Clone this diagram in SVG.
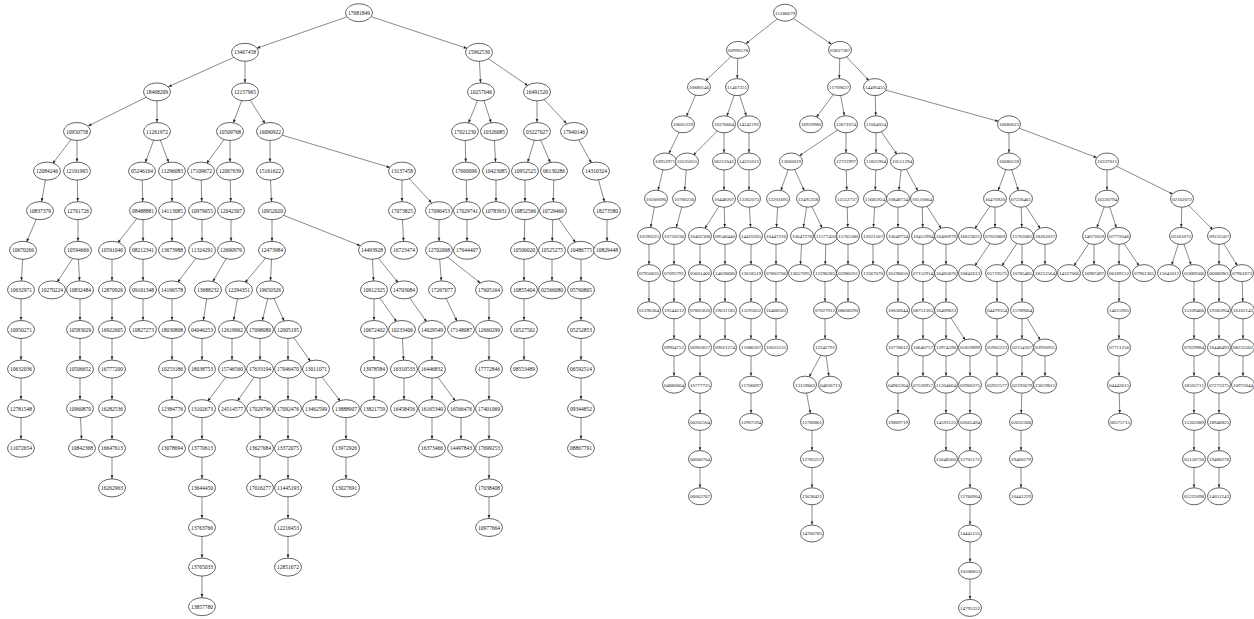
<svg xmlns="http://www.w3.org/2000/svg" width="1254" height="619" viewBox="0 0 1254 619">
<style>
.bg{fill:#fff}
ellipse{fill:#fff;stroke:#222;stroke-width:0.7}
text{font-family:"Liberation Serif",serif;font-size:5.5px;text-anchor:middle;fill:#111}
.r text{font-size:5px}
#edges path{fill:none;stroke:#3a3a3a;stroke-width:0.6}
.a{marker-end:url(#ma)}.m{marker-end:url(#mm)}.g{marker-end:url(#mg)}
.b{marker-end:url(#mb)}.bm{marker-end:url(#mbm)}.bg2{marker-end:url(#mbg)}
</style>
<defs>
<marker id="ma" markerUnits="userSpaceOnUse" viewBox="0 -5 30 10" markerWidth="30" markerHeight="10" refX="12.6" refY="0" orient="auto" overflow="visible"><path d="M0,-1.4L3.2,0L0,1.4z" fill="#222"/></marker>
<marker id="mm" markerUnits="userSpaceOnUse" viewBox="0 -5 30 10" markerWidth="30" markerHeight="10" refX="14.2" refY="0" orient="auto" overflow="visible"><path d="M0,-1.4L3.2,0L0,1.4z" fill="#222"/></marker>
<marker id="mg" markerUnits="userSpaceOnUse" viewBox="0 -5 30 10" markerWidth="30" markerHeight="10" refX="15.8" refY="0" orient="auto" overflow="visible"><path d="M0,-1.4L3.2,0L0,1.4z" fill="#222"/></marker>
<marker id="mb" markerUnits="userSpaceOnUse" viewBox="0 -5 30 10" markerWidth="30" markerHeight="10" refX="11.9" refY="0" orient="auto" overflow="visible"><path d="M0,-1.3L3,0L0,1.3z" fill="#222"/></marker>
<marker id="mbm" markerUnits="userSpaceOnUse" viewBox="0 -5 30 10" markerWidth="30" markerHeight="10" refX="13.3" refY="0" orient="auto" overflow="visible"><path d="M0,-1.3L3,0L0,1.3z" fill="#222"/></marker>
<marker id="mbg" markerUnits="userSpaceOnUse" viewBox="0 -5 30 10" markerWidth="30" markerHeight="10" refX="14.1" refY="0" orient="auto" overflow="visible"><path d="M0,-1.3L3,0L0,1.3z" fill="#222"/></marker>
</defs>
<rect class="bg" x="0" y="0" width="1254" height="619"/>
<g id="edges">
<path class="g" d="M359 12.7L245 52.3"/><path class="g" d="M359 12.7L479 52.3"/>
<path class="g" d="M245 52.3L157 91.9"/><path class="a" d="M245 52.3L245 91.9"/>
<path class="a" d="M479 52.3L481 91.9"/><path class="m" d="M479 52.3L537 91.9"/>
<path class="g" d="M157 91.9L77 131.5"/><path class="a" d="M157 91.9L157 131.5"/>
<path class="a" d="M245 91.9L230 131.5"/><path class="a" d="M245 91.9L270 131.5"/>
<path class="a" d="M481 91.9L465 131.5"/><path class="a" d="M481 91.9L494 131.5"/>
<path class="a" d="M537 91.9L537 131.5"/><path class="m" d="M537 91.9L574 131.5"/>
<path class="a" d="M77 131.5L47 171.1"/><path class="a" d="M77 131.5L77 171.1"/>
<path class="a" d="M157 131.5L142 171.1"/><path class="a" d="M157 131.5L172 171.1"/>
<path class="a" d="M230 131.5L201 171.1"/><path class="a" d="M230 131.5L230 171.1"/>
<path class="a" d="M270 131.5L270 171.1"/><path class="g" d="M270 131.5L402 171.1"/>
<path class="a" d="M465 131.5L466 171.1"/><path class="a" d="M494 131.5L496 171.1"/>
<path class="a" d="M537 131.5L525 171.1"/><path class="a" d="M537 131.5L554 171.1"/>
<path class="a" d="M574 131.5L596 171.1"/>
<path class="a" d="M47 171.1L40 210.7"/><path class="a" d="M77 171.1L78 210.7"/>
<path class="a" d="M142 171.1L143 210.7"/><path class="a" d="M172 171.1L172 210.7"/>
<path class="a" d="M201 171.1L202 210.7"/><path class="a" d="M230 171.1L231 210.7"/>
<path class="a" d="M270 171.1L272 210.7"/><path class="a" d="M402 171.1L402 210.7"/>
<path class="m" d="M402 171.1L439 210.7"/><path class="a" d="M466 171.1L467 210.7"/>
<path class="a" d="M496 171.1L496 210.7"/><path class="a" d="M525 171.1L525 210.7"/>
<path class="a" d="M554 171.1L553 210.7"/><path class="a" d="M596 171.1L607 210.7"/>
<path class="a" d="M40 210.7L23 250.3"/><path class="a" d="M78 210.7L78 250.3"/>
<path class="a" d="M143 210.7L112 250.3"/><path class="a" d="M143 210.7L143 250.3"/>
<path class="a" d="M172 210.7L172 250.3"/><path class="a" d="M202 210.7L202 250.3"/>
<path class="a" d="M231 210.7L231 250.3"/><path class="a" d="M272 210.7L272 250.3"/>
<path class="g" d="M272 210.7L372 250.3"/><path class="a" d="M402 210.7L404 250.3"/>
<path class="a" d="M439 210.7L439 250.3"/><path class="a" d="M467 210.7L467 250.3"/>
<path class="a" d="M525 210.7L524 250.3"/><path class="a" d="M553 210.7L552 250.3"/>
<path class="a" d="M553 210.7L581 250.3"/><path class="a" d="M607 210.7L607 250.3"/>
<path class="a" d="M23 250.3L21 289.9"/><path class="a" d="M78 250.3L52 289.9"/>
<path class="a" d="M78 250.3L80 289.9"/><path class="a" d="M112 250.3L112 289.9"/>
<path class="a" d="M143 250.3L143 289.9"/><path class="a" d="M202 250.3L172 289.9"/>
<path class="a" d="M231 250.3L208 289.9"/><path class="a" d="M272 250.3L239 289.9"/>
<path class="a" d="M272 250.3L270 289.9"/><path class="a" d="M372 250.3L374 289.9"/>
<path class="a" d="M372 250.3L404 289.9"/><path class="a" d="M439 250.3L442 289.9"/>
<path class="m" d="M439 250.3L489 289.9"/><path class="a" d="M524 250.3L524 289.9"/>
<path class="a" d="M552 250.3L552 289.9"/><path class="a" d="M581 250.3L581 289.9"/>
<path class="a" d="M21 289.9L21 329.5"/><path class="a" d="M80 289.9L80 329.5"/>
<path class="a" d="M112 289.9L112 329.5"/><path class="a" d="M143 289.9L143 329.5"/>
<path class="a" d="M172 289.9L172 329.5"/><path class="a" d="M208 289.9L202 329.5"/>
<path class="a" d="M239 289.9L232 329.5"/><path class="a" d="M270 289.9L260 329.5"/>
<path class="a" d="M270 289.9L288 329.5"/><path class="a" d="M374 289.9L374 329.5"/>
<path class="a" d="M374 289.9L402 329.5"/><path class="a" d="M404 289.9L432 329.5"/>
<path class="a" d="M442 289.9L461 329.5"/><path class="a" d="M489 289.9L489 329.5"/>
<path class="a" d="M524 289.9L524 329.5"/><path class="a" d="M581 289.9L581 329.5"/>
<path class="a" d="M21 329.5L21 369.1"/><path class="a" d="M80 329.5L80 369.1"/>
<path class="a" d="M112 329.5L112 369.1"/><path class="a" d="M172 329.5L172 369.1"/>
<path class="a" d="M202 329.5L202 369.1"/><path class="a" d="M232 329.5L232 369.1"/>
<path class="a" d="M260 329.5L260 369.1"/><path class="a" d="M288 329.5L288 369.1"/>
<path class="a" d="M288 329.5L316 369.1"/><path class="a" d="M374 329.5L374 369.1"/>
<path class="a" d="M402 329.5L404 369.1"/><path class="a" d="M432 329.5L432 369.1"/>
<path class="a" d="M489 329.5L489 369.1"/><path class="a" d="M524 329.5L524 369.1"/>
<path class="a" d="M581 329.5L581 369.1"/>
<path class="a" d="M21 369.1L21 408.7"/><path class="a" d="M80 369.1L80 408.7"/>
<path class="a" d="M112 369.1L112 408.7"/><path class="a" d="M172 369.1L172 408.7"/>
<path class="a" d="M232 369.1L202 408.7"/><path class="a" d="M260 369.1L232 408.7"/>
<path class="a" d="M260 369.1L260 408.7"/><path class="a" d="M288 369.1L288 408.7"/>
<path class="a" d="M316 369.1L316 408.7"/><path class="a" d="M316 369.1L346 408.7"/>
<path class="a" d="M374 369.1L374 408.7"/><path class="a" d="M404 369.1L404 408.7"/>
<path class="a" d="M432 369.1L432 408.7"/><path class="a" d="M432 369.1L461 408.7"/>
<path class="a" d="M489 369.1L489 408.7"/><path class="a" d="M581 369.1L581 408.7"/>
<path class="a" d="M21 408.7L21 448.3"/><path class="a" d="M80 408.7L82 448.3"/>
<path class="a" d="M112 408.7L112 448.3"/><path class="a" d="M172 408.7L172 448.3"/>
<path class="a" d="M202 408.7L202 448.3"/><path class="a" d="M260 408.7L260 448.3"/>
<path class="a" d="M288 408.7L288 448.3"/><path class="a" d="M346 408.7L346 448.3"/>
<path class="a" d="M432 408.7L432 448.3"/><path class="a" d="M461 408.7L461 448.3"/>
<path class="a" d="M489 408.7L489 448.3"/><path class="a" d="M581 408.7L581 448.3"/>
<path class="a" d="M112 448.3L112 487.9"/><path class="a" d="M202 448.3L202 487.9"/>
<path class="a" d="M260 448.3L260 487.9"/><path class="a" d="M288 448.3L288 487.9"/>
<path class="a" d="M346 448.3L346 487.9"/><path class="a" d="M489 448.3L489 487.9"/>
<path class="a" d="M202 487.9L202 527.5"/><path class="a" d="M288 487.9L288 527.5"/>
<path class="a" d="M489 487.9L489 527.5"/>
<path class="a" d="M202 527.5L202 567.1"/><path class="a" d="M288 527.5L288 567.1"/>
<path class="a" d="M202 567.1L202 606.7"/>
<path class="bm" d="M785 12.7L738 49.9"/><path class="bm" d="M785 12.7L840 49.9"/>
<path class="b" d="M738 49.9L699 87.1"/><path class="b" d="M738 49.9L737 87.1"/>
<path class="b" d="M840 49.9L839 87.1"/><path class="b" d="M840 49.9L875 87.1"/>
<path class="b" d="M699 87.1L683 124.3"/><path class="b" d="M737 87.1L724 124.3"/>
<path class="b" d="M737 87.1L749 124.3"/><path class="b" d="M839 87.1L811 124.3"/>
<path class="b" d="M839 87.1L846 124.3"/><path class="b" d="M875 87.1L876 124.3"/>
<path class="bg2" d="M875 87.1L1009 124.3"/>
<path class="b" d="M683 124.3L665 161.5"/><path class="b" d="M724 124.3L687 161.5"/>
<path class="b" d="M724 124.3L724 161.5"/><path class="b" d="M749 124.3L749 161.5"/>
<path class="bm" d="M846 124.3L791 161.5"/><path class="b" d="M846 124.3L846 161.5"/>
<path class="b" d="M876 124.3L876 161.5"/><path class="b" d="M876 124.3L902 161.5"/>
<path class="b" d="M1009 124.3L1009 161.5"/><path class="bg2" d="M1009 124.3L1107 161.5"/>
<path class="b" d="M665 161.5L656 198.7"/><path class="b" d="M687 161.5L684 198.7"/>
<path class="b" d="M724 161.5L724 198.7"/><path class="b" d="M749 161.5L749 198.7"/>
<path class="b" d="M791 161.5L778 198.7"/><path class="b" d="M791 161.5L808 198.7"/>
<path class="b" d="M846 161.5L847 198.7"/><path class="b" d="M876 161.5L875 198.7"/>
<path class="b" d="M902 161.5L898 198.7"/><path class="b" d="M902 161.5L922 198.7"/>
<path class="b" d="M1009 161.5L995 198.7"/><path class="b" d="M1009 161.5L1021 198.7"/>
<path class="b" d="M1107 161.5L1107 198.7"/><path class="bm" d="M1107 161.5L1182 198.7"/>
<path class="b" d="M656 198.7L649 235.9"/><path class="b" d="M684 198.7L674 235.9"/>
<path class="b" d="M724 198.7L700 235.9"/><path class="b" d="M724 198.7L725 235.9"/>
<path class="b" d="M749 198.7L751 235.9"/><path class="b" d="M778 198.7L776 235.9"/>
<path class="b" d="M808 198.7L802 235.9"/><path class="b" d="M808 198.7L826 235.9"/>
<path class="b" d="M847 198.7L848 235.9"/><path class="b" d="M875 198.7L873 235.9"/>
<path class="b" d="M898 198.7L898 235.9"/><path class="b" d="M922 198.7L923 235.9"/>
<path class="b" d="M922 198.7L946 235.9"/><path class="b" d="M995 198.7L970 235.9"/>
<path class="b" d="M995 198.7L995 235.9"/><path class="b" d="M1021 198.7L1022 235.9"/>
<path class="b" d="M1021 198.7L1045 235.9"/><path class="b" d="M1107 198.7L1094 235.9"/>
<path class="b" d="M1107 198.7L1119 235.9"/><path class="b" d="M1182 198.7L1181 235.9"/>
<path class="b" d="M1182 198.7L1219 235.9"/>
<path class="b" d="M649 235.9L649 273.1"/><path class="b" d="M674 235.9L674 273.1"/>
<path class="b" d="M700 235.9L700 273.1"/><path class="b" d="M725 235.9L725 273.1"/>
<path class="b" d="M751 235.9L751 273.1"/><path class="b" d="M776 235.9L776 273.1"/>
<path class="b" d="M802 235.9L800 273.1"/><path class="b" d="M826 235.9L825 273.1"/>
<path class="b" d="M848 235.9L848 273.1"/><path class="b" d="M873 235.9L873 273.1"/>
<path class="b" d="M898 235.9L898 273.1"/><path class="b" d="M923 235.9L923 273.1"/>
<path class="b" d="M946 235.9L946 273.1"/><path class="b" d="M995 235.9L970 273.1"/>
<path class="b" d="M1022 235.9L997 273.1"/><path class="b" d="M1022 235.9L1022 273.1"/>
<path class="b" d="M1045 235.9L1045 273.1"/><path class="b" d="M1094 235.9L1069 273.1"/>
<path class="b" d="M1094 235.9L1094 273.1"/><path class="b" d="M1119 235.9L1119 273.1"/>
<path class="b" d="M1119 235.9L1144 273.1"/><path class="b" d="M1181 235.9L1169 273.1"/>
<path class="b" d="M1181 235.9L1194 273.1"/><path class="b" d="M1219 235.9L1219 273.1"/>
<path class="b" d="M1219 235.9L1242 273.1"/>
<path class="b" d="M649 273.1L649 310.3"/><path class="b" d="M674 273.1L674 310.3"/>
<path class="b" d="M700 273.1L700 310.3"/><path class="b" d="M725 273.1L725 310.3"/>
<path class="b" d="M751 273.1L751 310.3"/><path class="b" d="M776 273.1L776 310.3"/>
<path class="b" d="M825 273.1L825 310.3"/><path class="b" d="M848 273.1L848 310.3"/>
<path class="b" d="M898 273.1L898 310.3"/><path class="b" d="M923 273.1L923 310.3"/>
<path class="b" d="M946 273.1L946 310.3"/><path class="b" d="M997 273.1L997 310.3"/>
<path class="b" d="M1022 273.1L1022 310.3"/><path class="b" d="M1119 273.1L1119 310.3"/>
<path class="b" d="M1194 273.1L1194 310.3"/><path class="b" d="M1219 273.1L1219 310.3"/>
<path class="b" d="M1242 273.1L1243 310.3"/>
<path class="b" d="M674 310.3L674 347.5"/><path class="b" d="M700 310.3L700 347.5"/>
<path class="b" d="M725 310.3L725 347.5"/><path class="b" d="M751 310.3L751 347.5"/>
<path class="b" d="M776 310.3L776 347.5"/><path class="b" d="M825 310.3L825 347.5"/>
<path class="b" d="M898 310.3L898 347.5"/><path class="b" d="M923 310.3L923 347.5"/>
<path class="b" d="M946 310.3L946 347.5"/><path class="b" d="M946 310.3L970 347.5"/>
<path class="b" d="M997 310.3L997 347.5"/><path class="b" d="M1022 310.3L1022 347.5"/>
<path class="b" d="M1022 310.3L1045 347.5"/><path class="b" d="M1119 310.3L1119 347.5"/>
<path class="b" d="M1194 310.3L1194 347.5"/><path class="b" d="M1219 310.3L1219 347.5"/>
<path class="b" d="M1243 310.3L1243 347.5"/>
<path class="b" d="M674 347.5L674 384.7"/><path class="b" d="M700 347.5L700 384.7"/>
<path class="b" d="M751 347.5L751 384.7"/><path class="b" d="M825 347.5L805 384.7"/>
<path class="b" d="M825 347.5L830 384.7"/><path class="b" d="M898 347.5L898 384.7"/>
<path class="b" d="M923 347.5L923 384.7"/><path class="b" d="M946 347.5L946 384.7"/>
<path class="b" d="M970 347.5L970 384.7"/><path class="b" d="M997 347.5L997 384.7"/>
<path class="b" d="M1022 347.5L1022 384.7"/><path class="b" d="M1045 347.5L1045 384.7"/>
<path class="b" d="M1119 347.5L1119 384.7"/><path class="b" d="M1194 347.5L1194 384.7"/>
<path class="b" d="M1219 347.5L1219 384.7"/><path class="b" d="M1243 347.5L1243 384.7"/>
<path class="b" d="M700 384.7L700 421.9"/><path class="b" d="M751 384.7L751 421.9"/>
<path class="b" d="M805 384.7L812 421.9"/><path class="b" d="M898 384.7L898 421.9"/>
<path class="b" d="M946 384.7L946 421.9"/><path class="b" d="M970 384.7L970 421.9"/>
<path class="b" d="M1022 384.7L1021 421.9"/><path class="b" d="M1119 384.7L1120 421.9"/>
<path class="b" d="M1194 384.7L1194 421.9"/><path class="b" d="M1219 384.7L1219 421.9"/>
<path class="b" d="M700 421.9L700 459.1"/><path class="b" d="M812 421.9L812 459.1"/>
<path class="b" d="M946 421.9L946 459.1"/><path class="b" d="M970 421.9L970 459.1"/>
<path class="b" d="M1021 421.9L1021 459.1"/><path class="b" d="M1194 421.9L1194 459.1"/>
<path class="b" d="M1219 421.9L1219 459.1"/>
<path class="b" d="M700 459.1L700 496.3"/><path class="b" d="M812 459.1L812 496.3"/>
<path class="b" d="M970 459.1L970 496.3"/><path class="b" d="M1021 459.1L1021 496.3"/>
<path class="b" d="M1194 459.1L1194 496.3"/><path class="b" d="M1219 459.1L1219 496.3"/>
<path class="b" d="M812 496.3L812 533.5"/><path class="b" d="M970 496.3L970 533.5"/>
<path class="b" d="M970 533.5L970 570.7"/><path class="b" d="M970 570.7L970 607.9"/>
</g>
<g id="nodes-left">
<g id="L0"><ellipse cx="359" cy="12.7" rx="13.5" ry="9"/><text x="359" y="14.7">17681849</text></g>
<g id="L1"><ellipse cx="245" cy="52.3" rx="13.5" ry="9"/><text x="245" y="54.3">13467458</text></g>
<g id="L2"><ellipse cx="479" cy="52.3" rx="13.5" ry="9"/><text x="479" y="54.3">15962536</text></g>
<g id="L3"><ellipse cx="157" cy="91.9" rx="13.5" ry="9"/><text x="157" y="93.9">18468209</text></g>
<g id="L4"><ellipse cx="245" cy="91.9" rx="13.5" ry="9"/><text x="245" y="93.9">12157965</text></g>
<g id="L5"><ellipse cx="481" cy="91.9" rx="13.5" ry="9"/><text x="481" y="93.9">10257046</text></g>
<g id="L6"><ellipse cx="537" cy="91.9" rx="13.5" ry="9"/><text x="537" y="93.9">16491520</text></g>
<g id="L7"><ellipse cx="77" cy="131.5" rx="13.5" ry="9"/><text x="77" y="133.5">10950758</text></g>
<g id="L8"><ellipse cx="157" cy="131.5" rx="13.5" ry="9"/><text x="157" y="133.5">11261972</text></g>
<g id="L9"><ellipse cx="230" cy="131.5" rx="13.5" ry="9"/><text x="230" y="133.5">10509768</text></g>
<g id="L10"><ellipse cx="270" cy="131.5" rx="13.5" ry="9"/><text x="270" y="133.5">16090922</text></g>
<g id="L11"><ellipse cx="465" cy="131.5" rx="13.5" ry="9"/><text x="465" y="133.5">17021230</text></g>
<g id="L12"><ellipse cx="494" cy="131.5" rx="13.5" ry="9"/><text x="494" y="133.5">10326085</text></g>
<g id="L13"><ellipse cx="537" cy="131.5" rx="13.5" ry="9"/><text x="537" y="133.5">03227027</text></g>
<g id="L14"><ellipse cx="574" cy="131.5" rx="13.5" ry="9"/><text x="574" y="133.5">17940146</text></g>
<g id="L15"><ellipse cx="47" cy="171.1" rx="13.5" ry="9"/><text x="47" y="173.1">12084246</text></g>
<g id="L16"><ellipse cx="77" cy="171.1" rx="13.5" ry="9"/><text x="77" y="173.1">12191965</text></g>
<g id="L17"><ellipse cx="142" cy="171.1" rx="13.5" ry="9"/><text x="142" y="173.1">05246164</text></g>
<g id="L18"><ellipse cx="172" cy="171.1" rx="13.5" ry="9"/><text x="172" y="173.1">11296083</text></g>
<g id="L19"><ellipse cx="201" cy="171.1" rx="13.5" ry="9"/><text x="201" y="173.1">17109672</text></g>
<g id="L20"><ellipse cx="230" cy="171.1" rx="13.5" ry="9"/><text x="230" y="173.1">12067639</text></g>
<g id="L21"><ellipse cx="270" cy="171.1" rx="13.5" ry="9"/><text x="270" y="173.1">15161622</text></g>
<g id="L22"><ellipse cx="402" cy="171.1" rx="13.5" ry="9"/><text x="402" y="173.1">13137458</text></g>
<g id="L23"><ellipse cx="466" cy="171.1" rx="13.5" ry="9"/><text x="466" y="173.1">17660096</text></g>
<g id="L24"><ellipse cx="496" cy="171.1" rx="13.5" ry="9"/><text x="496" y="173.1">10423085</text></g>
<g id="L25"><ellipse cx="525" cy="171.1" rx="13.5" ry="9"/><text x="525" y="173.1">10952525</text></g>
<g id="L26"><ellipse cx="554" cy="171.1" rx="13.5" ry="9"/><text x="554" y="173.1">06130286</text></g>
<g id="L27"><ellipse cx="596" cy="171.1" rx="13.5" ry="9"/><text x="596" y="173.1">14310324</text></g>
<g id="L28"><ellipse cx="40" cy="210.7" rx="13.5" ry="9"/><text x="40" y="212.7">10837379</text></g>
<g id="L29"><ellipse cx="78" cy="210.7" rx="13.5" ry="9"/><text x="78" y="212.7">12761726</text></g>
<g id="L30"><ellipse cx="143" cy="210.7" rx="13.5" ry="9"/><text x="143" y="212.7">08488881</text></g>
<g id="L31"><ellipse cx="172" cy="210.7" rx="13.5" ry="9"/><text x="172" y="212.7">14113085</text></g>
<g id="L32"><ellipse cx="202" cy="210.7" rx="13.5" ry="9"/><text x="202" y="212.7">10979055</text></g>
<g id="L33"><ellipse cx="231" cy="210.7" rx="13.5" ry="9"/><text x="231" y="212.7">12042307</text></g>
<g id="L34"><ellipse cx="272" cy="210.7" rx="13.5" ry="9"/><text x="272" y="212.7">10952020</text></g>
<g id="L35"><ellipse cx="402" cy="210.7" rx="13.5" ry="9"/><text x="402" y="212.7">17073825</text></g>
<g id="L36"><ellipse cx="439" cy="210.7" rx="13.5" ry="9"/><text x="439" y="212.7">17096453</text></g>
<g id="L37"><ellipse cx="467" cy="210.7" rx="13.5" ry="9"/><text x="467" y="212.7">17029741</text></g>
<g id="L38"><ellipse cx="496" cy="210.7" rx="13.5" ry="9"/><text x="496" y="212.7">10783931</text></g>
<g id="L39"><ellipse cx="525" cy="210.7" rx="13.5" ry="9"/><text x="525" y="212.7">10852566</text></g>
<g id="L40"><ellipse cx="553" cy="210.7" rx="13.5" ry="9"/><text x="553" y="212.7">10729466</text></g>
<g id="L41"><ellipse cx="607" cy="210.7" rx="13.5" ry="9"/><text x="607" y="212.7">18273580</text></g>
<g id="L42"><ellipse cx="23" cy="250.3" rx="13.5" ry="9"/><text x="23" y="252.3">10670266</text></g>
<g id="L43"><ellipse cx="78" cy="250.3" rx="13.5" ry="9"/><text x="78" y="252.3">10594666</text></g>
<g id="L44"><ellipse cx="112" cy="250.3" rx="13.5" ry="9"/><text x="112" y="252.3">10591046</text></g>
<g id="L45"><ellipse cx="143" cy="250.3" rx="13.5" ry="9"/><text x="143" y="252.3">08212341</text></g>
<g id="L46"><ellipse cx="172" cy="250.3" rx="13.5" ry="9"/><text x="172" y="252.3">13673988</text></g>
<g id="L47"><ellipse cx="202" cy="250.3" rx="13.5" ry="9"/><text x="202" y="252.3">11324291</text></g>
<g id="L48"><ellipse cx="231" cy="250.3" rx="13.5" ry="9"/><text x="231" y="252.3">12690976</text></g>
<g id="L49"><ellipse cx="272" cy="250.3" rx="13.5" ry="9"/><text x="272" y="252.3">12473984</text></g>
<g id="L50"><ellipse cx="372" cy="250.3" rx="13.5" ry="9"/><text x="372" y="252.3">14493928</text></g>
<g id="L51"><ellipse cx="404" cy="250.3" rx="13.5" ry="9"/><text x="404" y="252.3">16723474</text></g>
<g id="L52"><ellipse cx="439" cy="250.3" rx="13.5" ry="9"/><text x="439" y="252.3">12702068</text></g>
<g id="L53"><ellipse cx="467" cy="250.3" rx="13.5" ry="9"/><text x="467" y="252.3">17644407</text></g>
<g id="L54"><ellipse cx="524" cy="250.3" rx="13.5" ry="9"/><text x="524" y="252.3">10506020</text></g>
<g id="L55"><ellipse cx="552" cy="250.3" rx="13.5" ry="9"/><text x="552" y="252.3">10525275</text></g>
<g id="L56"><ellipse cx="581" cy="250.3" rx="13.5" ry="9"/><text x="581" y="252.3">10486775</text></g>
<g id="L57"><ellipse cx="607" cy="250.3" rx="13.5" ry="9"/><text x="607" y="252.3">10829448</text></g>
<g id="L58"><ellipse cx="21" cy="289.9" rx="13.5" ry="9"/><text x="21" y="291.9">10632971</text></g>
<g id="L59"><ellipse cx="52" cy="289.9" rx="13.5" ry="9"/><text x="52" y="291.9">10270224</text></g>
<g id="L60"><ellipse cx="80" cy="289.9" rx="13.5" ry="9"/><text x="80" y="291.9">10832484</text></g>
<g id="L61"><ellipse cx="112" cy="289.9" rx="13.5" ry="9"/><text x="112" y="291.9">12870926</text></g>
<g id="L62"><ellipse cx="143" cy="289.9" rx="13.5" ry="9"/><text x="143" y="291.9">09101348</text></g>
<g id="L63"><ellipse cx="172" cy="289.9" rx="13.5" ry="9"/><text x="172" y="291.9">14196578</text></g>
<g id="L64"><ellipse cx="208" cy="289.9" rx="13.5" ry="9"/><text x="208" y="291.9">13688232</text></g>
<g id="L65"><ellipse cx="239" cy="289.9" rx="13.5" ry="9"/><text x="239" y="291.9">12294351</text></g>
<g id="L66"><ellipse cx="270" cy="289.9" rx="13.5" ry="9"/><text x="270" y="291.9">19650326</text></g>
<g id="L67"><ellipse cx="374" cy="289.9" rx="13.5" ry="9"/><text x="374" y="291.9">10912325</text></g>
<g id="L68"><ellipse cx="404" cy="289.9" rx="13.5" ry="9"/><text x="404" y="291.9">14703084</text></g>
<g id="L69"><ellipse cx="442" cy="289.9" rx="13.5" ry="9"/><text x="442" y="291.9">17267077</text></g>
<g id="L70"><ellipse cx="489" cy="289.9" rx="13.5" ry="9"/><text x="489" y="291.9">17605164</text></g>
<g id="L71"><ellipse cx="524" cy="289.9" rx="13.5" ry="9"/><text x="524" y="291.9">10855404</text></g>
<g id="L72"><ellipse cx="552" cy="289.9" rx="13.5" ry="9"/><text x="552" y="291.9">02566080</text></g>
<g id="L73"><ellipse cx="581" cy="289.9" rx="13.5" ry="9"/><text x="581" y="291.9">05760805</text></g>
<g id="L74"><ellipse cx="21" cy="329.5" rx="13.5" ry="9"/><text x="21" y="331.5">10950271</text></g>
<g id="L75"><ellipse cx="80" cy="329.5" rx="13.5" ry="9"/><text x="80" y="331.5">10583029</text></g>
<g id="L76"><ellipse cx="112" cy="329.5" rx="13.5" ry="9"/><text x="112" y="331.5">16922605</text></g>
<g id="L77"><ellipse cx="143" cy="329.5" rx="13.5" ry="9"/><text x="143" y="331.5">10827273</text></g>
<g id="L78"><ellipse cx="172" cy="329.5" rx="13.5" ry="9"/><text x="172" y="331.5">18030808</text></g>
<g id="L79"><ellipse cx="202" cy="329.5" rx="13.5" ry="9"/><text x="202" y="331.5">04046253</text></g>
<g id="L80"><ellipse cx="232" cy="329.5" rx="13.5" ry="9"/><text x="232" y="331.5">12619962</text></g>
<g id="L81"><ellipse cx="260" cy="329.5" rx="13.5" ry="9"/><text x="260" y="331.5">17098080</text></g>
<g id="L82"><ellipse cx="288" cy="329.5" rx="13.5" ry="9"/><text x="288" y="331.5">12005195</text></g>
<g id="L83"><ellipse cx="374" cy="329.5" rx="13.5" ry="9"/><text x="374" y="331.5">10672402</text></g>
<g id="L84"><ellipse cx="402" cy="329.5" rx="13.5" ry="9"/><text x="402" y="331.5">10233406</text></g>
<g id="L85"><ellipse cx="432" cy="329.5" rx="13.5" ry="9"/><text x="432" y="331.5">14029549</text></g>
<g id="L86"><ellipse cx="461" cy="329.5" rx="13.5" ry="9"/><text x="461" y="331.5">17148087</text></g>
<g id="L87"><ellipse cx="489" cy="329.5" rx="13.5" ry="9"/><text x="489" y="331.5">12660299</text></g>
<g id="L88"><ellipse cx="524" cy="329.5" rx="13.5" ry="9"/><text x="524" y="331.5">10527502</text></g>
<g id="L89"><ellipse cx="581" cy="329.5" rx="13.5" ry="9"/><text x="581" y="331.5">05252853</text></g>
<g id="L90"><ellipse cx="21" cy="369.1" rx="13.5" ry="9"/><text x="21" y="371.1">10632036</text></g>
<g id="L91"><ellipse cx="80" cy="369.1" rx="13.5" ry="9"/><text x="80" y="371.1">10506652</text></g>
<g id="L92"><ellipse cx="112" cy="369.1" rx="13.5" ry="9"/><text x="112" y="371.1">16777200</text></g>
<g id="L93"><ellipse cx="172" cy="369.1" rx="13.5" ry="9"/><text x="172" y="371.1">10253186</text></g>
<g id="L94"><ellipse cx="202" cy="369.1" rx="13.5" ry="9"/><text x="202" y="371.1">18038753</text></g>
<g id="L95"><ellipse cx="232" cy="369.1" rx="13.5" ry="9"/><text x="232" y="371.1">15746560</text></g>
<g id="L96"><ellipse cx="260" cy="369.1" rx="13.5" ry="9"/><text x="260" y="371.1">17633194</text></g>
<g id="L97"><ellipse cx="288" cy="369.1" rx="13.5" ry="9"/><text x="288" y="371.1">17046470</text></g>
<g id="L98"><ellipse cx="316" cy="369.1" rx="13.5" ry="9"/><text x="316" y="371.1">13011071</text></g>
<g id="L99"><ellipse cx="374" cy="369.1" rx="13.5" ry="9"/><text x="374" y="371.1">13978584</text></g>
<g id="L100"><ellipse cx="404" cy="369.1" rx="13.5" ry="9"/><text x="404" y="371.1">16310533</text></g>
<g id="L101"><ellipse cx="432" cy="369.1" rx="13.5" ry="9"/><text x="432" y="371.1">16446832</text></g>
<g id="L102"><ellipse cx="489" cy="369.1" rx="13.5" ry="9"/><text x="489" y="371.1">17772846</text></g>
<g id="L103"><ellipse cx="524" cy="369.1" rx="13.5" ry="9"/><text x="524" y="371.1">08553489</text></g>
<g id="L104"><ellipse cx="581" cy="369.1" rx="13.5" ry="9"/><text x="581" y="371.1">06592514</text></g>
<g id="L105"><ellipse cx="21" cy="408.7" rx="13.5" ry="9"/><text x="21" y="410.7">12781548</text></g>
<g id="L106"><ellipse cx="80" cy="408.7" rx="13.5" ry="9"/><text x="80" y="410.7">10960870</text></g>
<g id="L107"><ellipse cx="112" cy="408.7" rx="13.5" ry="9"/><text x="112" y="410.7">16282536</text></g>
<g id="L108"><ellipse cx="172" cy="408.7" rx="13.5" ry="9"/><text x="172" y="410.7">12384776</text></g>
<g id="L109"><ellipse cx="202" cy="408.7" rx="13.5" ry="9"/><text x="202" y="410.7">13102673</text></g>
<g id="L110"><ellipse cx="232" cy="408.7" rx="13.5" ry="9"/><text x="232" y="410.7">24514577</text></g>
<g id="L111"><ellipse cx="260" cy="408.7" rx="13.5" ry="9"/><text x="260" y="410.7">17029796</text></g>
<g id="L112"><ellipse cx="288" cy="408.7" rx="13.5" ry="9"/><text x="288" y="410.7">17092476</text></g>
<g id="L113"><ellipse cx="316" cy="408.7" rx="13.5" ry="9"/><text x="316" y="410.7">13462599</text></g>
<g id="L114"><ellipse cx="346" cy="408.7" rx="13.5" ry="9"/><text x="346" y="410.7">13888907</text></g>
<g id="L115"><ellipse cx="374" cy="408.7" rx="13.5" ry="9"/><text x="374" y="410.7">13821759</text></g>
<g id="L116"><ellipse cx="404" cy="408.7" rx="13.5" ry="9"/><text x="404" y="410.7">16458456</text></g>
<g id="L117"><ellipse cx="432" cy="408.7" rx="13.5" ry="9"/><text x="432" y="410.7">16165340</text></g>
<g id="L118"><ellipse cx="461" cy="408.7" rx="13.5" ry="9"/><text x="461" y="410.7">16566476</text></g>
<g id="L119"><ellipse cx="489" cy="408.7" rx="13.5" ry="9"/><text x="489" y="410.7">17401069</text></g>
<g id="L120"><ellipse cx="581" cy="408.7" rx="13.5" ry="9"/><text x="581" y="410.7">09344852</text></g>
<g id="L121"><ellipse cx="21" cy="448.3" rx="13.5" ry="9"/><text x="21" y="450.3">11072654</text></g>
<g id="L122"><ellipse cx="82" cy="448.3" rx="13.5" ry="9"/><text x="82" y="450.3">10842368</text></g>
<g id="L123"><ellipse cx="112" cy="448.3" rx="13.5" ry="9"/><text x="112" y="450.3">16647613</text></g>
<g id="L124"><ellipse cx="172" cy="448.3" rx="13.5" ry="9"/><text x="172" y="450.3">13078694</text></g>
<g id="L125"><ellipse cx="202" cy="448.3" rx="13.5" ry="9"/><text x="202" y="450.3">13770613</text></g>
<g id="L126"><ellipse cx="260" cy="448.3" rx="13.5" ry="9"/><text x="260" y="450.3">13627684</text></g>
<g id="L127"><ellipse cx="288" cy="448.3" rx="13.5" ry="9"/><text x="288" y="450.3">13372075</text></g>
<g id="L128"><ellipse cx="346" cy="448.3" rx="13.5" ry="9"/><text x="346" y="450.3">13972926</text></g>
<g id="L129"><ellipse cx="432" cy="448.3" rx="13.5" ry="9"/><text x="432" y="450.3">16373466</text></g>
<g id="L130"><ellipse cx="461" cy="448.3" rx="13.5" ry="9"/><text x="461" y="450.3">14497843</text></g>
<g id="L131"><ellipse cx="489" cy="448.3" rx="13.5" ry="9"/><text x="489" y="450.3">17699253</text></g>
<g id="L132"><ellipse cx="581" cy="448.3" rx="13.5" ry="9"/><text x="581" y="450.3">08867791</text></g>
<g id="L133"><ellipse cx="112" cy="487.9" rx="13.5" ry="9"/><text x="112" y="489.9">16262963</text></g>
<g id="L134"><ellipse cx="202" cy="487.9" rx="13.5" ry="9"/><text x="202" y="489.9">13644450</text></g>
<g id="L135"><ellipse cx="260" cy="487.9" rx="13.5" ry="9"/><text x="260" y="489.9">17016277</text></g>
<g id="L136"><ellipse cx="288" cy="487.9" rx="13.5" ry="9"/><text x="288" y="489.9">11445193</text></g>
<g id="L137"><ellipse cx="346" cy="487.9" rx="13.5" ry="9"/><text x="346" y="489.9">13027691</text></g>
<g id="L138"><ellipse cx="489" cy="487.9" rx="13.5" ry="9"/><text x="489" y="489.9">17038408</text></g>
<g id="L139"><ellipse cx="202" cy="527.5" rx="13.5" ry="9"/><text x="202" y="529.5">13763766</text></g>
<g id="L140"><ellipse cx="288" cy="527.5" rx="13.5" ry="9"/><text x="288" y="529.5">12216453</text></g>
<g id="L141"><ellipse cx="489" cy="527.5" rx="13.5" ry="9"/><text x="489" y="529.5">10977664</text></g>
<g id="L142"><ellipse cx="202" cy="567.1" rx="13.5" ry="9"/><text x="202" y="569.1">13765033</text></g>
<g id="L143"><ellipse cx="288" cy="567.1" rx="13.5" ry="9"/><text x="288" y="569.1">12851672</text></g>
<g id="L144"><ellipse cx="202" cy="606.7" rx="13.5" ry="9"/><text x="202" y="608.7">13857780</text></g>
</g>
<g id="nodes-right" class="r">
<g id="R0"><ellipse cx="785" cy="12.7" rx="11.5" ry="8.5"/><text x="785" y="14.5">15186679</text></g>
<g id="R1"><ellipse cx="738" cy="49.9" rx="11.5" ry="8.5"/><text x="738" y="51.7">00990578</text></g>
<g id="R2"><ellipse cx="840" cy="49.9" rx="11.5" ry="8.5"/><text x="840" y="51.7">03837387</text></g>
<g id="R3"><ellipse cx="699" cy="87.1" rx="11.5" ry="8.5"/><text x="699" y="88.9">10880146</text></g>
<g id="R4"><ellipse cx="737" cy="87.1" rx="11.5" ry="8.5"/><text x="737" y="88.9">11467351</text></g>
<g id="R5"><ellipse cx="839" cy="87.1" rx="11.5" ry="8.5"/><text x="839" y="88.9">11709637</text></g>
<g id="R6"><ellipse cx="875" cy="87.1" rx="11.5" ry="8.5"/><text x="875" y="88.9">14490435</text></g>
<g id="R7"><ellipse cx="683" cy="124.3" rx="11.5" ry="8.5"/><text x="683" y="126.1">10605229</text></g>
<g id="R8"><ellipse cx="724" cy="124.3" rx="11.5" ry="8.5"/><text x="724" y="126.1">10376664</text></g>
<g id="R9"><ellipse cx="749" cy="124.3" rx="11.5" ry="8.5"/><text x="749" y="126.1">14242192</text></g>
<g id="R10"><ellipse cx="811" cy="124.3" rx="11.5" ry="8.5"/><text x="811" y="126.1">16959980</text></g>
<g id="R11"><ellipse cx="846" cy="124.3" rx="11.5" ry="8.5"/><text x="846" y="126.1">12671074</text></g>
<g id="R12"><ellipse cx="876" cy="124.3" rx="11.5" ry="8.5"/><text x="876" y="126.1">11064024</text></g>
<g id="R13"><ellipse cx="1009" cy="124.3" rx="11.5" ry="8.5"/><text x="1009" y="126.1">16680623</text></g>
<g id="R14"><ellipse cx="665" cy="161.5" rx="11.5" ry="8.5"/><text x="665" y="163.3">10952971</text></g>
<g id="R15"><ellipse cx="687" cy="161.5" rx="11.5" ry="8.5"/><text x="687" y="163.3">10235055</text></g>
<g id="R16"><ellipse cx="724" cy="161.5" rx="11.5" ry="8.5"/><text x="724" y="163.3">06212041</text></g>
<g id="R17"><ellipse cx="749" cy="161.5" rx="11.5" ry="8.5"/><text x="749" y="163.3">14225012</text></g>
<g id="R18"><ellipse cx="791" cy="161.5" rx="11.5" ry="8.5"/><text x="791" y="163.3">13660019</text></g>
<g id="R19"><ellipse cx="846" cy="161.5" rx="11.5" ry="8.5"/><text x="846" y="163.3">12722997</text></g>
<g id="R20"><ellipse cx="876" cy="161.5" rx="11.5" ry="8.5"/><text x="876" y="163.3">11825904</text></g>
<g id="R21"><ellipse cx="902" cy="161.5" rx="11.5" ry="8.5"/><text x="902" y="163.3">10511294</text></g>
<g id="R22"><ellipse cx="1009" cy="161.5" rx="11.5" ry="8.5"/><text x="1009" y="163.3">16680128</text></g>
<g id="R23"><ellipse cx="1107" cy="161.5" rx="11.5" ry="8.5"/><text x="1107" y="163.3">10337011</text></g>
<g id="R24"><ellipse cx="656" cy="198.7" rx="11.5" ry="8.5"/><text x="656" y="200.5">10500096</text></g>
<g id="R25"><ellipse cx="684" cy="198.7" rx="11.5" ry="8.5"/><text x="684" y="200.5">10780236</text></g>
<g id="R26"><ellipse cx="724" cy="198.7" rx="11.5" ry="8.5"/><text x="724" y="200.5">10448207</text></g>
<g id="R27"><ellipse cx="749" cy="198.7" rx="11.5" ry="8.5"/><text x="749" y="200.5">12362072</text></g>
<g id="R28"><ellipse cx="778" cy="198.7" rx="11.5" ry="8.5"/><text x="778" y="200.5">13201695</text></g>
<g id="R29"><ellipse cx="808" cy="198.7" rx="11.5" ry="8.5"/><text x="808" y="200.5">12495358</text></g>
<g id="R30"><ellipse cx="847" cy="198.7" rx="11.5" ry="8.5"/><text x="847" y="200.5">12552737</text></g>
<g id="R31"><ellipse cx="875" cy="198.7" rx="11.5" ry="8.5"/><text x="875" y="200.5">11685924</text></g>
<g id="R32"><ellipse cx="898" cy="198.7" rx="11.5" ry="8.5"/><text x="898" y="200.5">10848734</text></g>
<g id="R33"><ellipse cx="922" cy="198.7" rx="11.5" ry="8.5"/><text x="922" y="200.5">10510064</text></g>
<g id="R34"><ellipse cx="995" cy="198.7" rx="11.5" ry="8.5"/><text x="995" y="200.5">16470920</text></g>
<g id="R35"><ellipse cx="1021" cy="198.7" rx="11.5" ry="8.5"/><text x="1021" y="200.5">07226461</text></g>
<g id="R36"><ellipse cx="1107" cy="198.7" rx="11.5" ry="8.5"/><text x="1107" y="200.5">16330794</text></g>
<g id="R37"><ellipse cx="1182" cy="198.7" rx="11.5" ry="8.5"/><text x="1182" y="200.5">02162072</text></g>
<g id="R38"><ellipse cx="649" cy="235.9" rx="11.5" ry="8.5"/><text x="649" y="237.7">10590225</text></g>
<g id="R39"><ellipse cx="674" cy="235.9" rx="11.5" ry="8.5"/><text x="674" y="237.7">10720236</text></g>
<g id="R40"><ellipse cx="700" cy="235.9" rx="11.5" ry="8.5"/><text x="700" y="237.7">10402368</text></g>
<g id="R41"><ellipse cx="725" cy="235.9" rx="11.5" ry="8.5"/><text x="725" y="237.7">09540440</text></g>
<g id="R42"><ellipse cx="751" cy="235.9" rx="11.5" ry="8.5"/><text x="751" y="237.7">14410305</text></g>
<g id="R43"><ellipse cx="776" cy="235.9" rx="11.5" ry="8.5"/><text x="776" y="237.7">10447226</text></g>
<g id="R44"><ellipse cx="802" cy="235.9" rx="11.5" ry="8.5"/><text x="802" y="237.7">10647278</text></g>
<g id="R45"><ellipse cx="826" cy="235.9" rx="11.5" ry="8.5"/><text x="826" y="237.7">11577450</text></g>
<g id="R46"><ellipse cx="848" cy="235.9" rx="11.5" ry="8.5"/><text x="848" y="237.7">15765580</text></g>
<g id="R47"><ellipse cx="873" cy="235.9" rx="11.5" ry="8.5"/><text x="873" y="237.7">12021567</text></g>
<g id="R48"><ellipse cx="898" cy="235.9" rx="11.5" ry="8.5"/><text x="898" y="237.7">10649734</text></g>
<g id="R49"><ellipse cx="923" cy="235.9" rx="11.5" ry="8.5"/><text x="923" y="237.7">10455994</text></g>
<g id="R50"><ellipse cx="946" cy="235.9" rx="11.5" ry="8.5"/><text x="946" y="237.7">16400979</text></g>
<g id="R51"><ellipse cx="970" cy="235.9" rx="11.5" ry="8.5"/><text x="970" y="237.7">16623821</text></g>
<g id="R52"><ellipse cx="995" cy="235.9" rx="11.5" ry="8.5"/><text x="995" y="237.7">07023869</text></g>
<g id="R53"><ellipse cx="1022" cy="235.9" rx="11.5" ry="8.5"/><text x="1022" y="237.7">15763085</text></g>
<g id="R54"><ellipse cx="1045" cy="235.9" rx="11.5" ry="8.5"/><text x="1045" y="237.7">18263037</text></g>
<g id="R55"><ellipse cx="1094" cy="235.9" rx="11.5" ry="8.5"/><text x="1094" y="237.7">14073059</text></g>
<g id="R56"><ellipse cx="1119" cy="235.9" rx="11.5" ry="8.5"/><text x="1119" y="237.7">07772046</text></g>
<g id="R57"><ellipse cx="1181" cy="235.9" rx="11.5" ry="8.5"/><text x="1181" y="237.7">02165072</text></g>
<g id="R58"><ellipse cx="1219" cy="235.9" rx="11.5" ry="8.5"/><text x="1219" y="237.7">09235567</text></g>
<g id="R59"><ellipse cx="649" cy="273.1" rx="11.5" ry="8.5"/><text x="649" y="274.9">07950635</text></g>
<g id="R60"><ellipse cx="674" cy="273.1" rx="11.5" ry="8.5"/><text x="674" y="274.9">07093791</text></g>
<g id="R61"><ellipse cx="700" cy="273.1" rx="11.5" ry="8.5"/><text x="700" y="274.9">05601460</text></g>
<g id="R62"><ellipse cx="725" cy="273.1" rx="11.5" ry="8.5"/><text x="725" y="274.9">14628680</text></g>
<g id="R63"><ellipse cx="751" cy="273.1" rx="11.5" ry="8.5"/><text x="751" y="274.9">13618519</text></g>
<g id="R64"><ellipse cx="776" cy="273.1" rx="11.5" ry="8.5"/><text x="776" y="274.9">07803706</text></g>
<g id="R65"><ellipse cx="800" cy="273.1" rx="11.5" ry="8.5"/><text x="800" y="274.9">12657095</text></g>
<g id="R66"><ellipse cx="825" cy="273.1" rx="11.5" ry="8.5"/><text x="825" y="274.9">12296285</text></g>
<g id="R67"><ellipse cx="848" cy="273.1" rx="11.5" ry="8.5"/><text x="848" y="274.9">05980201</text></g>
<g id="R68"><ellipse cx="873" cy="273.1" rx="11.5" ry="8.5"/><text x="873" y="274.9">13367070</text></g>
<g id="R69"><ellipse cx="898" cy="273.1" rx="11.5" ry="8.5"/><text x="898" y="274.9">16198650</text></g>
<g id="R70"><ellipse cx="923" cy="273.1" rx="11.5" ry="8.5"/><text x="923" y="274.9">07152914</text></g>
<g id="R71"><ellipse cx="946" cy="273.1" rx="11.5" ry="8.5"/><text x="946" y="274.9">16405876</text></g>
<g id="R72"><ellipse cx="970" cy="273.1" rx="11.5" ry="8.5"/><text x="970" y="274.9">10842613</text></g>
<g id="R73"><ellipse cx="997" cy="273.1" rx="11.5" ry="8.5"/><text x="997" y="274.9">05719575</text></g>
<g id="R74"><ellipse cx="1022" cy="273.1" rx="11.5" ry="8.5"/><text x="1022" y="274.9">10785485</text></g>
<g id="R75"><ellipse cx="1045" cy="273.1" rx="11.5" ry="8.5"/><text x="1045" y="274.9">18252564</text></g>
<g id="R76"><ellipse cx="1069" cy="273.1" rx="11.5" ry="8.5"/><text x="1069" y="274.9">14327066</text></g>
<g id="R77"><ellipse cx="1094" cy="273.1" rx="11.5" ry="8.5"/><text x="1094" y="274.9">16987497</text></g>
<g id="R78"><ellipse cx="1119" cy="273.1" rx="11.5" ry="8.5"/><text x="1119" y="274.9">06189152</text></g>
<g id="R79"><ellipse cx="1144" cy="273.1" rx="11.5" ry="8.5"/><text x="1144" y="274.9">07961365</text></g>
<g id="R80"><ellipse cx="1169" cy="273.1" rx="11.5" ry="8.5"/><text x="1169" y="274.9">15045012</text></g>
<g id="R81"><ellipse cx="1194" cy="273.1" rx="11.5" ry="8.5"/><text x="1194" y="274.9">01889566</text></g>
<g id="R82"><ellipse cx="1219" cy="273.1" rx="11.5" ry="8.5"/><text x="1219" y="274.9">06080961</text></g>
<g id="R83"><ellipse cx="1242" cy="273.1" rx="11.5" ry="8.5"/><text x="1242" y="274.9">07961873</text></g>
<g id="R84"><ellipse cx="649" cy="310.3" rx="11.5" ry="8.5"/><text x="649" y="312.1">01296364</text></g>
<g id="R85"><ellipse cx="674" cy="310.3" rx="11.5" ry="8.5"/><text x="674" y="312.1">19544212</text></g>
<g id="R86"><ellipse cx="700" cy="310.3" rx="11.5" ry="8.5"/><text x="700" y="312.1">07805830</text></g>
<g id="R87"><ellipse cx="725" cy="310.3" rx="11.5" ry="8.5"/><text x="725" y="312.1">19631185</text></g>
<g id="R88"><ellipse cx="751" cy="310.3" rx="11.5" ry="8.5"/><text x="751" y="312.1">13295652</text></g>
<g id="R89"><ellipse cx="776" cy="310.3" rx="11.5" ry="8.5"/><text x="776" y="312.1">16468503</text></g>
<g id="R90"><ellipse cx="825" cy="310.3" rx="11.5" ry="8.5"/><text x="825" y="312.1">07027912</text></g>
<g id="R91"><ellipse cx="848" cy="310.3" rx="11.5" ry="8.5"/><text x="848" y="312.1">08608290</text></g>
<g id="R92"><ellipse cx="898" cy="310.3" rx="11.5" ry="8.5"/><text x="898" y="312.1">10036644</text></g>
<g id="R93"><ellipse cx="923" cy="310.3" rx="11.5" ry="8.5"/><text x="923" y="312.1">08751305</text></g>
<g id="R94"><ellipse cx="946" cy="310.3" rx="11.5" ry="8.5"/><text x="946" y="312.1">16409823</text></g>
<g id="R95"><ellipse cx="997" cy="310.3" rx="11.5" ry="8.5"/><text x="997" y="312.1">04479354</text></g>
<g id="R96"><ellipse cx="1022" cy="310.3" rx="11.5" ry="8.5"/><text x="1022" y="312.1">15789664</text></g>
<g id="R97"><ellipse cx="1119" cy="310.3" rx="11.5" ry="8.5"/><text x="1119" y="312.1">14615905</text></g>
<g id="R98"><ellipse cx="1194" cy="310.3" rx="11.5" ry="8.5"/><text x="1194" y="312.1">15109466</text></g>
<g id="R99"><ellipse cx="1219" cy="310.3" rx="11.5" ry="8.5"/><text x="1219" y="312.1">19385904</text></g>
<g id="R100"><ellipse cx="1243" cy="310.3" rx="11.5" ry="8.5"/><text x="1243" y="312.1">16162143</text></g>
<g id="R101"><ellipse cx="674" cy="347.5" rx="11.5" ry="8.5"/><text x="674" y="349.3">09904751</text></g>
<g id="R102"><ellipse cx="700" cy="347.5" rx="11.5" ry="8.5"/><text x="700" y="349.3">06903657</text></g>
<g id="R103"><ellipse cx="725" cy="347.5" rx="11.5" ry="8.5"/><text x="725" y="349.3">09021274</text></g>
<g id="R104"><ellipse cx="751" cy="347.5" rx="11.5" ry="8.5"/><text x="751" y="349.3">11086307</text></g>
<g id="R105"><ellipse cx="776" cy="347.5" rx="11.5" ry="8.5"/><text x="776" y="349.3">10023155</text></g>
<g id="R106"><ellipse cx="825" cy="347.5" rx="11.5" ry="8.5"/><text x="825" y="349.3">12242791</text></g>
<g id="R107"><ellipse cx="898" cy="347.5" rx="11.5" ry="8.5"/><text x="898" y="349.3">10778612</text></g>
<g id="R108"><ellipse cx="923" cy="347.5" rx="11.5" ry="8.5"/><text x="923" y="349.3">10640757</text></g>
<g id="R109"><ellipse cx="946" cy="347.5" rx="11.5" ry="8.5"/><text x="946" y="349.3">12974596</text></g>
<g id="R110"><ellipse cx="970" cy="347.5" rx="11.5" ry="8.5"/><text x="970" y="349.3">01859899</text></g>
<g id="R111"><ellipse cx="997" cy="347.5" rx="11.5" ry="8.5"/><text x="997" y="349.3">05902233</text></g>
<g id="R112"><ellipse cx="1022" cy="347.5" rx="11.5" ry="8.5"/><text x="1022" y="349.3">02154307</text></g>
<g id="R113"><ellipse cx="1045" cy="347.5" rx="11.5" ry="8.5"/><text x="1045" y="349.3">03920935</text></g>
<g id="R114"><ellipse cx="1119" cy="347.5" rx="11.5" ry="8.5"/><text x="1119" y="349.3">07711256</text></g>
<g id="R115"><ellipse cx="1194" cy="347.5" rx="11.5" ry="8.5"/><text x="1194" y="349.3">07029984</text></g>
<g id="R116"><ellipse cx="1219" cy="347.5" rx="11.5" ry="8.5"/><text x="1219" y="349.3">18448493</text></g>
<g id="R117"><ellipse cx="1243" cy="347.5" rx="11.5" ry="8.5"/><text x="1243" y="349.3">08235562</text></g>
<g id="R118"><ellipse cx="674" cy="384.7" rx="11.5" ry="8.5"/><text x="674" y="386.5">04880664</text></g>
<g id="R119"><ellipse cx="700" cy="384.7" rx="11.5" ry="8.5"/><text x="700" y="386.5">10777725</text></g>
<g id="R120"><ellipse cx="751" cy="384.7" rx="11.5" ry="8.5"/><text x="751" y="386.5">11706697</text></g>
<g id="R121"><ellipse cx="805" cy="384.7" rx="11.5" ry="8.5"/><text x="805" y="386.5">13159662</text></g>
<g id="R122"><ellipse cx="830" cy="384.7" rx="11.5" ry="8.5"/><text x="830" y="386.5">04836713</text></g>
<g id="R123"><ellipse cx="898" cy="384.7" rx="11.5" ry="8.5"/><text x="898" y="386.5">04963304</text></g>
<g id="R124"><ellipse cx="923" cy="384.7" rx="11.5" ry="8.5"/><text x="923" y="386.5">07530957</text></g>
<g id="R125"><ellipse cx="946" cy="384.7" rx="11.5" ry="8.5"/><text x="946" y="386.5">11304664</text></g>
<g id="R126"><ellipse cx="970" cy="384.7" rx="11.5" ry="8.5"/><text x="970" y="386.5">03960375</text></g>
<g id="R127"><ellipse cx="997" cy="384.7" rx="11.5" ry="8.5"/><text x="997" y="386.5">05922577</text></g>
<g id="R128"><ellipse cx="1022" cy="384.7" rx="11.5" ry="8.5"/><text x="1022" y="386.5">02193679</text></g>
<g id="R129"><ellipse cx="1045" cy="384.7" rx="11.5" ry="8.5"/><text x="1045" y="386.5">13619812</text></g>
<g id="R130"><ellipse cx="1119" cy="384.7" rx="11.5" ry="8.5"/><text x="1119" y="386.5">04442615</text></g>
<g id="R131"><ellipse cx="1194" cy="384.7" rx="11.5" ry="8.5"/><text x="1194" y="386.5">18505711</text></g>
<g id="R132"><ellipse cx="1219" cy="384.7" rx="11.5" ry="8.5"/><text x="1219" y="386.5">07273375</text></g>
<g id="R133"><ellipse cx="1243" cy="384.7" rx="11.5" ry="8.5"/><text x="1243" y="386.5">10973044</text></g>
<g id="R134"><ellipse cx="700" cy="421.9" rx="11.5" ry="8.5"/><text x="700" y="423.7">06202504</text></g>
<g id="R135"><ellipse cx="751" cy="421.9" rx="11.5" ry="8.5"/><text x="751" y="423.7">12907594</text></g>
<g id="R136"><ellipse cx="812" cy="421.9" rx="11.5" ry="8.5"/><text x="812" y="423.7">12780861</text></g>
<g id="R137"><ellipse cx="898" cy="421.9" rx="11.5" ry="8.5"/><text x="898" y="423.7">19869719</text></g>
<g id="R138"><ellipse cx="946" cy="421.9" rx="11.5" ry="8.5"/><text x="946" y="423.7">14593125</text></g>
<g id="R139"><ellipse cx="970" cy="421.9" rx="11.5" ry="8.5"/><text x="970" y="423.7">02665494</text></g>
<g id="R140"><ellipse cx="1021" cy="421.9" rx="11.5" ry="8.5"/><text x="1021" y="423.7">02632368</text></g>
<g id="R141"><ellipse cx="1120" cy="421.9" rx="11.5" ry="8.5"/><text x="1120" y="423.7">06575715</text></g>
<g id="R142"><ellipse cx="1194" cy="421.9" rx="11.5" ry="8.5"/><text x="1194" y="423.7">15362089</text></g>
<g id="R143"><ellipse cx="1219" cy="421.9" rx="11.5" ry="8.5"/><text x="1219" y="423.7">18948825</text></g>
<g id="R144"><ellipse cx="700" cy="459.1" rx="11.5" ry="8.5"/><text x="700" y="460.9">06066704</text></g>
<g id="R145"><ellipse cx="812" cy="459.1" rx="11.5" ry="8.5"/><text x="812" y="460.9">12783257</text></g>
<g id="R146"><ellipse cx="946" cy="459.1" rx="11.5" ry="8.5"/><text x="946" y="460.9">15648560</text></g>
<g id="R147"><ellipse cx="970" cy="459.1" rx="11.5" ry="8.5"/><text x="970" y="460.9">12705171</text></g>
<g id="R148"><ellipse cx="1021" cy="459.1" rx="11.5" ry="8.5"/><text x="1021" y="460.9">19460279</text></g>
<g id="R149"><ellipse cx="1194" cy="459.1" rx="11.5" ry="8.5"/><text x="1194" y="460.9">05158726</text></g>
<g id="R150"><ellipse cx="1219" cy="459.1" rx="11.5" ry="8.5"/><text x="1219" y="460.9">19488278</text></g>
<g id="R151"><ellipse cx="700" cy="496.3" rx="11.5" ry="8.5"/><text x="700" y="498.1">06062767</text></g>
<g id="R152"><ellipse cx="812" cy="496.3" rx="11.5" ry="8.5"/><text x="812" y="498.1">13638431</text></g>
<g id="R153"><ellipse cx="970" cy="496.3" rx="11.5" ry="8.5"/><text x="970" y="498.1">12760904</text></g>
<g id="R154"><ellipse cx="1021" cy="496.3" rx="11.5" ry="8.5"/><text x="1021" y="498.1">10441229</text></g>
<g id="R155"><ellipse cx="1194" cy="496.3" rx="11.5" ry="8.5"/><text x="1194" y="498.1">01222098</text></g>
<g id="R156"><ellipse cx="1219" cy="496.3" rx="11.5" ry="8.5"/><text x="1219" y="498.1">14051243</text></g>
<g id="R157"><ellipse cx="812" cy="533.5" rx="11.5" ry="8.5"/><text x="812" y="535.3">14760785</text></g>
<g id="R158"><ellipse cx="970" cy="533.5" rx="11.5" ry="8.5"/><text x="970" y="535.3">14445155</text></g>
<g id="R159"><ellipse cx="970" cy="570.7" rx="11.5" ry="8.5"/><text x="970" y="572.5">10508853</text></g>
<g id="R160"><ellipse cx="970" cy="607.9" rx="11.5" ry="8.5"/><text x="970" y="609.7">14795352</text></g>
</g>
</svg>
